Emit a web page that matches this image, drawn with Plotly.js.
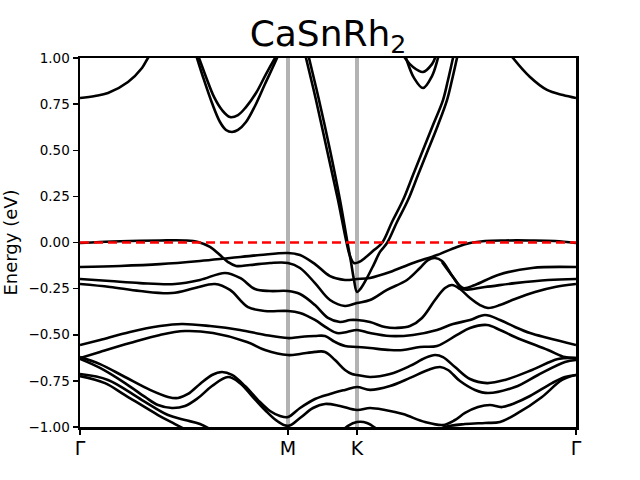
<!DOCTYPE html>
<html><head><meta charset="utf-8">
<script src="https://cdn.plot.ly/plotly-3.0.1.min.js"></script>
<style>html,body{margin:0;padding:0;background:#fff}</style>
</head><body><div id="chart" style="width:640px;height:480px"></div>
<script>
// high-symmetry path (k-distance, arbitrary units)
const kTicks = [0, 208, 277, 496];
const kLabels = ['Γ', 'M', 'K', 'Γ'];
const eTicks = [-1, -0.75, -0.5, -0.25, 0, 0.25, 0.5, 0.75, 1];

// conduction bands
const cb1_k = [0, 15, 28, 48, 62, 68, 78];
const cb1_E = [0.783, 0.794, 0.810, 0.870, 0.946, 1.0, 1.076];
const cb2_k = [423, 433, 450, 467, 483, 496];
const cb2_E = [1.076, 1.0, 0.897, 0.827, 0.799, 0.783];
const cb3_k = [115, 119, 126, 134, 142, 150, 158, 166, 176, 186, 195, 201];
const cb3_E = [1.054, 1.0, 0.897, 0.789, 0.718, 0.680, 0.691, 0.734, 0.810, 0.913, 1.0, 1.054];
const cb4_k = [114, 117, 124, 132, 140, 146, 152, 158, 166, 175, 185, 197, 201];
const cb4_E = [1.054, 1.0, 0.881, 0.756, 0.653, 0.610, 0.599, 0.610, 0.653, 0.740, 0.859, 1.0, 1.054];
const p1_k = [222, 226, 236, 247, 258, 266, 270, 274, 279, 286, 294, 302, 312, 323, 333, 343, 353, 363, 368, 373, 376];
const p1_E = [1.087, 1.0, 0.772, 0.501, 0.230, 0.014, -0.073, -0.111, -0.106, -0.079, -0.041, -0.003, 0.111, 0.230, 0.366, 0.501, 0.637, 0.772, 0.881, 1.0, 1.070];
const p2_k = [225, 229, 239, 250, 260, 267, 271, 274, 277, 281, 287, 294, 300, 307, 317, 328, 338, 348, 358, 367, 372, 377, 380];
const p2_E = [1.087, 1.0, 0.772, 0.501, 0.230, 0.014, -0.106, -0.203, -0.268, -0.247, -0.192, -0.117, -0.051, -0.003, 0.111, 0.230, 0.366, 0.501, 0.637, 0.772, 0.881, 1.0, 1.070];
const cb5_k = [321, 325, 333, 343, 352, 355, 357];
const cb5_E = [1.043, 1.0, 0.951, 0.924, 0.967, 1.0, 1.043];
const cb6_k = [322, 326, 334, 343, 352, 358, 360];
const cb6_E = [1.070, 1.0, 0.892, 0.837, 0.902, 1.0, 1.043];

// valence bands
const vA_k = [0, 20, 50, 80, 105, 118, 130, 140, 148, 156, 170, 190, 208, 220, 235, 250, 265, 277, 290, 307, 327, 340, 348, 355, 362, 373, 383, 395, 418, 452, 496];
const vA_E = [-0.003, 0.003, 0.008, 0.011, 0.011, 0.003, -0.024, -0.068, -0.106, -0.127, -0.122, -0.111, -0.111, -0.138, -0.220, -0.312, -0.344, -0.328, -0.312, -0.257, -0.203, -0.138, -0.095, -0.084, -0.100, -0.187, -0.247, -0.230, -0.176, -0.138, -0.133];
const vB_k = [0, 40, 80, 120, 150, 180, 208, 220, 235, 250, 265, 277, 290, 310, 333, 357, 377, 390, 405, 425, 450, 475, 496];
const vB_E = [-0.133, -0.127, -0.117, -0.100, -0.084, -0.068, -0.057, -0.068, -0.117, -0.182, -0.203, -0.198, -0.192, -0.160, -0.111, -0.068, -0.024, -0.003, 0.008, 0.011, 0.011, 0.008, -0.003];
const vX_k = [362, 373, 383, 405, 435, 468, 496];
const vX_E = [-0.106, -0.187, -0.252, -0.241, -0.220, -0.203, -0.198];
const vC_k = [0, 30, 60, 95, 120, 145, 160, 175, 190, 208, 220, 235, 248, 260, 270, 277, 290, 305, 317, 330, 342, 355, 365, 372, 380, 390, 400, 408, 420, 435, 455, 475, 496];
const vC_E = [-0.198, -0.209, -0.220, -0.225, -0.203, -0.165, -0.192, -0.252, -0.263, -0.263, -0.279, -0.339, -0.409, -0.431, -0.420, -0.420, -0.431, -0.458, -0.463, -0.453, -0.409, -0.312, -0.247, -0.230, -0.252, -0.301, -0.339, -0.355, -0.339, -0.306, -0.268, -0.241, -0.225];
const vD_k = [0, 30, 60, 92, 115, 135, 150, 168, 185, 208, 220, 235, 247, 257, 267, 277, 290, 310, 333, 357, 373, 390, 405, 420, 435, 450, 468, 496];
const vD_E = [-0.225, -0.241, -0.263, -0.274, -0.247, -0.225, -0.257, -0.350, -0.371, -0.371, -0.382, -0.420, -0.463, -0.491, -0.485, -0.474, -0.491, -0.507, -0.501, -0.474, -0.442, -0.420, -0.393, -0.420, -0.458, -0.491, -0.518, -0.556];
const vE_k = [0, 20, 50, 80, 102, 130, 160, 185, 208, 220, 235, 245, 255, 265, 277, 290, 310, 323, 340, 357, 377, 390, 407, 420, 435, 468, 485, 496];
const vE_E = [-0.556, -0.528, -0.485, -0.453, -0.442, -0.453, -0.474, -0.501, -0.518, -0.512, -0.507, -0.507, -0.539, -0.561, -0.566, -0.572, -0.583, -0.583, -0.566, -0.561, -0.501, -0.463, -0.447, -0.474, -0.512, -0.583, -0.621, -0.626];
const vF_k = [0, 20, 50, 80, 105, 133, 167, 185, 208, 220, 235, 245, 255, 265, 272, 277, 290, 310, 330, 345, 355, 363, 375, 390, 407, 425, 452, 478, 496];
const vF_E = [-0.626, -0.593, -0.545, -0.501, -0.480, -0.491, -0.539, -0.583, -0.610, -0.604, -0.593, -0.593, -0.637, -0.691, -0.713, -0.718, -0.729, -0.713, -0.669, -0.626, -0.610, -0.621, -0.675, -0.740, -0.762, -0.745, -0.691, -0.631, -0.626];
const vG_k = [0, 20, 45, 70, 88, 98, 108, 120, 132, 142, 152, 165, 178, 190, 200, 208, 220, 235, 250, 265, 277, 290, 310, 330, 348, 360, 368, 380, 395, 408, 435, 458, 485, 496];
const vG_E = [-0.621, -0.659, -0.729, -0.799, -0.837, -0.843, -0.821, -0.767, -0.718, -0.702, -0.718, -0.778, -0.854, -0.913, -0.940, -0.946, -0.897, -0.848, -0.821, -0.799, -0.783, -0.799, -0.778, -0.734, -0.691, -0.675, -0.691, -0.751, -0.799, -0.816, -0.783, -0.718, -0.648, -0.637];
const vH_k = [0, 20, 45, 65, 78, 92, 105, 118, 132, 148, 160, 172, 185, 197, 208, 220, 233, 245, 260, 277, 290, 305, 323, 345, 363, 375, 385, 398, 410, 422, 435, 450, 472, 485, 496];
const vH_E = [-0.631, -0.680, -0.762, -0.837, -0.881, -0.897, -0.886, -0.843, -0.778, -0.729, -0.762, -0.832, -0.908, -0.967, -0.994, -0.951, -0.897, -0.875, -0.886, -0.908, -0.897, -0.908, -0.930, -0.973, -0.989, -0.962, -0.924, -0.892, -0.881, -0.892, -0.870, -0.832, -0.762, -0.729, -0.718];
const vI_k = [0, 28, 62, 88, 105, 120, 135];
const vI_E = [-0.713, -0.745, -0.854, -0.935, -0.962, -0.984, -1.027];
const vJ_k = [0, 25, 45, 78, 95, 110];
const vJ_E = [-0.724, -0.762, -0.827, -0.935, -0.984, -1.027];
const vK_k = [258, 268, 277, 287, 298, 305];
const vK_E = [-1.043, -0.994, -0.973, -0.978, -1.016, -1.049];
const vL_k = [350, 365, 385, 405, 420, 438, 462, 482, 496];
const vL_E = [-1.038, -1.0, -0.984, -0.978, -0.973, -0.924, -0.837, -0.745, -0.718];

const fermi = 0;

const bands = [
  [cb1_k, cb1_E], [cb2_k, cb2_E], [cb3_k, cb3_E], [cb4_k, cb4_E],
  [p1_k, p1_E], [p2_k, p2_E], [cb5_k, cb5_E], [cb6_k, cb6_E],
  [vA_k, vA_E], [vB_k, vB_E], [vX_k, vX_E], [vC_k, vC_E], [vD_k, vD_E],
  [vE_k, vE_E], [vF_k, vF_E], [vG_k, vG_E], [vH_k, vH_E],
  [vI_k, vI_E], [vJ_k, vJ_E], [vK_k, vK_E], [vL_k, vL_E]
];

const traces = [];
// vertical lines at M and K
[kTicks[1], kTicks[2]].forEach(k => traces.push({
  x: [k, k], y: [-1, 1], mode: 'lines', hoverinfo: 'skip',
  line: {color: '#b3b3b3', width: 4}
}));
bands.forEach(([k, e]) => traces.push({
  x: k, y: e, mode: 'lines', hoverinfo: 'skip',
  line: {color: 'black', width: 2.6, shape: 'spline', smoothing: 1}
}));
traces.push({
  x: [kTicks[0], kTicks[3]], y: [fermi, fermi], mode: 'lines', hoverinfo: 'skip',
  line: {color: 'red', width: 2.4, dash: '9px,5px'}
});

const layout = {
  width: 640, height: 480,
  margin: {l: 80, r: 64, t: 58, b: 53},
  paper_bgcolor: 'white', plot_bgcolor: 'white',
  showlegend: false,
  font: {family: 'DejaVu Sans', color: 'black'},
  title: {
    text: 'CaSnRh<sub>2</sub>', font: {size: 36, family: 'DejaVu Sans'},
    x: 0.5125, xanchor: 'center', xref: 'container',
    y: 0.905, yanchor: 'bottom', yref: 'container'
  },
  xaxis: {
    range: [kTicks[0], kTicks[3]], tickvals: kTicks, ticktext: kLabels,
    ticks: 'outside', ticklen: 5, tickwidth: 1.5, tickcolor: 'black',
    tickfont: {size: 19}, ticklabelstandoff: -2, showgrid: false, zeroline: false,
    showline: true, linewidth: 2.5, linecolor: 'black', mirror: true
  },
  yaxis: {
    range: [-1, 1], tickvals: eTicks, tickformat: '.2f',
    ticks: 'outside', ticklen: 5, tickwidth: 1.5, tickcolor: 'black',
    tickfont: {size: 13.5}, showgrid: false, zeroline: false,
    showline: true, linewidth: 2.5, linecolor: 'black', mirror: true,
    title: {text: 'Energy (eV)', font: {size: 18}, standoff: 8}
  }
};
Plotly.newPlot('chart', traces, layout, {staticPlot: true, displayModeBar: false});
</script></body></html>
